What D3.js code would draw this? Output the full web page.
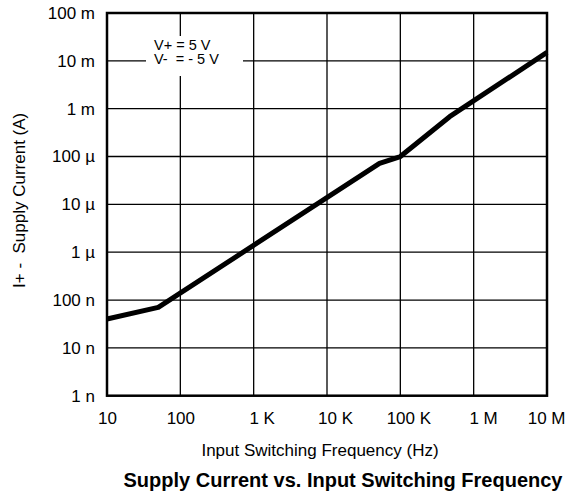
<!DOCTYPE html>
<html>
<head>
<meta charset="utf-8">
<script src="https://cdn.jsdelivr.net/npm/d3@7"></script>
<style>
  html, body { margin: 0; padding: 0; background: #fff; }
  svg { display: block; font-family: "Liberation Sans", Arial, Helvetica, sans-serif; }
</style>
</head>
<body>
<svg id="chart" width="571" height="501"></svg>
<script>
// ---- data ----
const freqHz = [10, 50, 52e3, 100e3, 470e3, 10e6];
const supplyCurrentA = [40e-9, 70e-9, 72e-6, 100e-6, 680e-6, 15e-3];

const xTickValues = [10, 100, 1e3, 1e4, 1e5, 1e6, 1e7];
const xTickLabels = ["10", "100", "1 K", "10 K", "100 K", "1 M", "10 M"];
const yTickValues = [1e-9, 1e-8, 1e-7, 1e-6, 1e-5, 1e-4, 1e-3, 1e-2, 1e-1];
const yTickLabels = ["1 n", "10 n", "100 n", "1 \u00b5", "10 \u00b5", "100 \u00b5", "1 m", "10 m", "100 m"];

const annotationLines = ["V+ = 5 V", "V-  = - 5 V"];
const xTitle = "Input Switching Frequency (Hz)";
const yTitle = "I+ -  Supply Current (A)";
const chartTitle = "Supply Current vs. Input Switching Frequency";

// ---- layout ----
const svg = d3.select("#chart");
const W = 571, H = 501;
const m = { left: 107, top: 13, right: 24, bottom: 105.3 };
const x0 = m.left, x1 = W - m.right, y0 = H - m.bottom, y1 = m.top;

const x = d3.scaleLog().domain([10, 1e7]).range([x0, x1]);
const y = d3.scaleLog().domain([1e-9, 1e-1]).range([y0, y1]);

// grid
const g = svg.append("g");
g.selectAll("line.vg").data(xTickValues).join("line")
  .attr("x1", d => x(d)).attr("x2", d => x(d))
  .attr("y1", y1).attr("y2", y0)
  .attr("stroke", "#000").attr("stroke-width", 1.3);
g.selectAll("line.hg").data(yTickValues).join("line")
  .attr("x1", x0).attr("x2", x1)
  .attr("y1", d => y(d)).attr("y2", d => y(d))
  .attr("stroke", "#000").attr("stroke-width", 1.3);

// annotation box (white knock-out)
const annX = x(10) + 39, annY = y(1e-1) + 23;
svg.append("rect")
  .attr("x", annX).attr("y", annY)
  .attr("width", 97).attr("height", 40)
  .attr("fill", "#fff");
svg.append("g").selectAll("text").data(annotationLines).join("text")
  .attr("x", annX + 8)
  .attr("y", (d, i) => annY + 14 + i * 14)
  .attr("font-size", 14.5)
  .attr("fill", "#000")
  .style("white-space", "pre")
  .text(d => d);

// curve
const pts = freqHz.map((f, i) => [f, supplyCurrentA[i]]);
svg.append("path")
  .datum(pts)
  .attr("fill", "none")
  .attr("stroke", "#000")
  .attr("stroke-width", 5)
  .attr("stroke-linejoin", "round")
  .attr("d", d3.line().x(d => x(d[0])).y(d => y(d[1])));

// frame
svg.append("rect")
  .attr("x", x0).attr("y", y1)
  .attr("width", x1 - x0).attr("height", y0 - y1)
  .attr("fill", "none").attr("stroke", "#000").attr("stroke-width", 2.5);

// x axis labels: numeric part centred under the grid line, unit hanging right
const xAxis = d3.axisBottom(x).tickValues(xTickValues)
  .tickFormat((d, i) => xTickLabels[i]).tickSize(0).tickPadding(16);
const xg = svg.append("g").attr("transform", `translate(0,${y0})`).call(xAxis);
xg.select(".domain").remove();
xg.selectAll("text").attr("font-size", 17).attr("fill", "#000")
  .attr("font-family", "Liberation Sans, Arial, sans-serif")
  .each(function (d, i) {
    const t = d3.select(this);
    const label = xTickLabels[i];
    const num = label.split(" ")[0];
    const full = this.getComputedTextLength();
    t.text(num);
    const nw = this.getComputedTextLength();
    t.text(label);
    let start = -nw / 2;
    const tickX = x(d);
    const maxRight = W - 6;
    if (tickX + start + full > maxRight) start = maxRight - tickX - full;
    t.attr("text-anchor", "start").attr("x", start);
  });

const yAxis = d3.axisLeft(y).tickValues(yTickValues)
  .tickFormat((d, i) => yTickLabels[i]).tickSize(0).tickPadding(12);
const yg = svg.append("g").attr("transform", `translate(${x0},0)`).call(yAxis);
yg.select(".domain").remove();
yg.selectAll("text").attr("font-size", 17).attr("fill", "#000")
  .attr("font-family", "Liberation Sans, Arial, sans-serif");

// titles
svg.append("text")
  .attr("x", (x0 + x1) / 2 - 7).attr("y", 456)
  .attr("text-anchor", "middle").attr("font-size", 17)
  .text(xTitle);

svg.append("text")
  .attr("transform", `translate(25,${(y0 + y1) / 2 - 4}) rotate(-90)`)
  .attr("text-anchor", "middle").attr("font-size", 17)
  .style("white-space", "pre")
  .text(yTitle);

svg.append("text")
  .attr("x", (x0 + x1) / 2 + 16).attr("y", 487)
  .attr("text-anchor", "middle").attr("font-size", 20).attr("font-weight", "bold")
  .text(chartTitle);
</script>
</body>
</html>
